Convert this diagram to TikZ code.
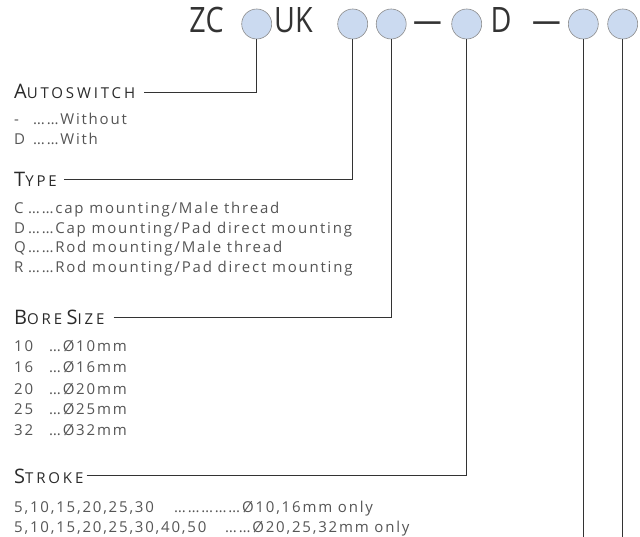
\documentclass[tikz,border=0pt]{standalone}
\usepackage{fontspec}
\setmainfont{Open Sans}
\newfontfamily\titlefont[FakeStretch=0.82]{Open Sans}
\newfontfamily\bodyfont[LetterSpace=12]{Open Sans}
\newfontfamily\headfont[LetterSpace=19]{Open Sans}
\definecolor{circfill}{HTML}{CBDAF0}
\definecolor{circline}{HTML}{8C8C8C}
\definecolor{titlecol}{HTML}{333333}
\definecolor{headcol}{HTML}{2A2A2A}
\definecolor{bodycol}{HTML}{555555}
\definecolor{wirecol}{HTML}{333333}
\newcommand{\hdl}[2]{{\fontsize{20}{20}\selectfont #1}{\fontsize{15}{15}\selectfont #2}}
\newcommand{\kv}[3]{\makebox[#1][l]{#2}#3}
\begin{document}
\begin{tikzpicture}[x=1pt,y=-1pt,
  codecirc/.style={circle,draw=circline,fill=circfill,line width=0.6pt,minimum size=30pt,inner sep=0pt},
  titletext/.style={anchor=base,inner sep=0pt,text=titlecol,font=\titlefont\fontsize{35}{35}\selectfont},
  headtext/.style={anchor=base west,inner sep=0pt,text=headcol,font=\headfont},
  bodytext/.style={anchor=base west,inner sep=0pt,text=bodycol,font=\bodyfont\fontsize{15}{15}\selectfont},
  wire/.style={draw=wirecol,line width=0.8pt}]
\useasboundingbox (0,0) rectangle (640,537);

% title code
\node[titletext] (tZC) at (206.5,33) {ZC};
\node[codecirc] (c1) at (256.7,24) {};
\node[titletext] (tUK) at (293.5,33) {UK};
\node[codecirc] (c2) at (352.7,24) {};
\node[codecirc] (c3) at (391.2,24) {};
\node[titletext] (tD1) at (427.5,33) {—};
\node[codecirc] (c4) at (466.7,24) {};
\node[titletext] (tD) at (501,33) {D};
\node[titletext] (tD2) at (546.5,33) {—};
\node[codecirc] (c5) at (583.3,24) {};
\node[codecirc] (c6) at (622.7,24) {};

% Autoswitch
\node[headtext] (hA) at (14,99) {\hdl{A}{UTOSWITCH}};
\node[bodytext] (a1) at (14,125) {\kv{19pt}{-}{……Without}};
\node[bodytext] (a2) at (14,145) {\kv{19pt}{D}{……With}};

% Type
\node[headtext] (hT) at (14,187) {\hdl{T}{YPE}};
\node[bodytext] (t1) at (14,214) {\kv{14pt}{C}{……cap mounting/Male thread}};
\node[bodytext] (t2) at (14,234) {\kv{14pt}{D}{……Cap mounting/Pad direct mounting}};
\node[bodytext] (t3) at (14,253) {\kv{14pt}{Q}{……Rod mounting/Male thread}};
\node[bodytext] (t4) at (14,273) {\kv{14pt}{R}{……Rod mounting/Pad direct mounting}};

% Bore size
\node[headtext] (hB) at (14,325) {\hdl{B}{ORE} \hdl{S}{IZE}};
\node[bodytext] (b1) at (14,352) {\kv{35pt}{10}{…Ø10mm}};
\node[bodytext] (b2) at (14,373) {\kv{35pt}{16}{…Ø16mm}};
\node[bodytext] (b3) at (14,394) {\kv{35pt}{20}{…Ø20mm}};
\node[bodytext] (b4) at (14,414) {\kv{35pt}{25}{…Ø25mm}};
\node[bodytext] (b5) at (14,435) {\kv{35pt}{32}{…Ø32mm}};

% Stroke
\node[headtext] (hS) at (14,483) {\hdl{S}{TROKE}};
\node[bodytext] (s1) at (14,512) {\kv{160pt}{5,10,15,20,25,30}{……………Ø10,16mm only}};
\node[bodytext] (s2) at (14,532) {\kv{211pt}{5,10,15,20,25,30,40,50}{……Ø20,25,32mm only}};

% connectors
\coordinate (e5) at (583.3,537);
\coordinate (e6) at (622.7,537);
\draw[wire] ([xshift=9pt]hA.east) -- (hA.east -| c1) -- (c1);
\draw[wire] ([xshift=7pt]hT.east) -- (hT.east -| c2) -- (c2);
\draw[wire] ([xshift=9pt]hB.east) -- (hB.east -| c3) -- (c3);
\draw[wire] ([xshift=3pt]hS.east) -- (hS.east -| c4) -- (c4);
\draw[wire] (c5) -- (e5);
\draw[wire] (c6) -- (e6);
\end{tikzpicture}
\end{document}
